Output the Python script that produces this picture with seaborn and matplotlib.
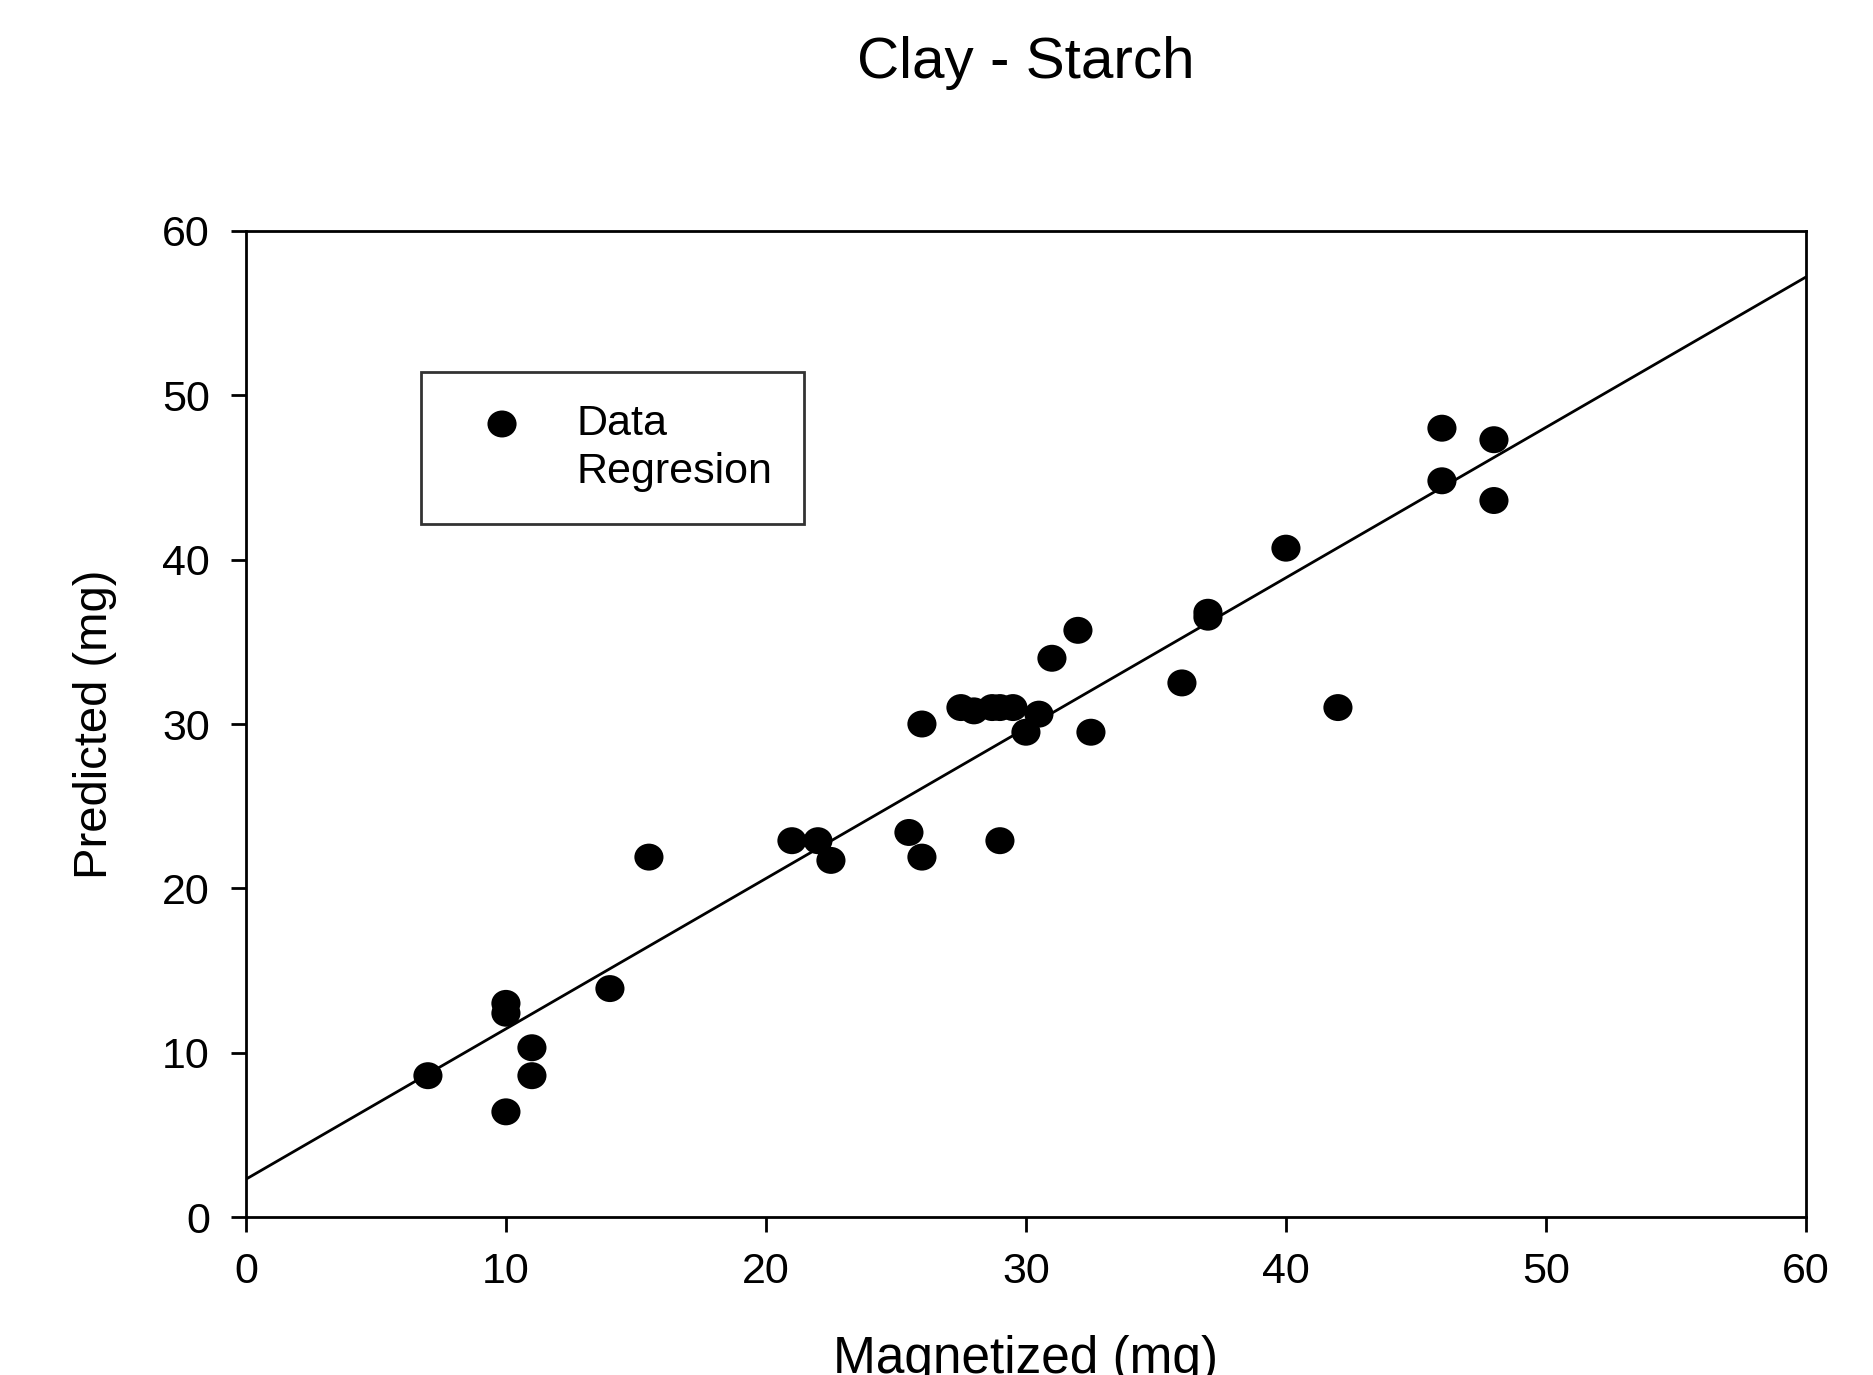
import numpy as np
import pandas as pd
import matplotlib
matplotlib.use('Agg')
import matplotlib.pyplot as plt
from matplotlib.path import Path
from matplotlib.transforms import Affine2D
import seaborn as sns

# Values
magnetized = [7, 10, 10, 10, 11, 11, 14, 15.5, 21, 22, 22.5, 25.5, 26, 26,
              27.5, 28, 28.7, 29, 29.5, 29, 30, 30.5, 31, 32, 32.5, 36,
              37, 37, 40, 42, 46, 46, 48, 48]
predicted = [8.6, 13.0, 12.4, 6.4, 10.3, 8.6, 13.9, 21.9, 22.9, 22.9, 21.7, 23.4, 21.9, 30.0,
             31.0, 30.8, 31.0, 31.0, 31.0, 22.9, 29.5, 30.6, 34.0, 35.7, 29.5, 32.5,
             36.8, 36.5, 40.7, 31.0, 48.0, 44.8, 47.3, 43.6]

# regression coefficients
intercept = 2.3
slope = 0.915
x_range = [0, 60]

ticks = [0, 10, 20, 30, 40, 50, 60]

df = pd.DataFrame({'Magnetized': magnetized, 'Predicted': predicted})
line_x = np.array(x_range, dtype=float)
reg = pd.DataFrame({'x': line_x, 'y': intercept + slope * line_x})

sns.set_style('white')
plt.rcParams['font.family'] = ['Liberation Sans', 'DejaVu Sans']
for key in ['text.color', 'axes.labelcolor', 'xtick.color', 'ytick.color', 'axes.edgecolor']:
    plt.rcParams[key] = 'black'

# slightly wide dot, as in the original
dot = Path.unit_circle().transformed(Affine2D().scale(1.08, 1.0))

fig = plt.figure(figsize=(18.73, 13.75), dpi=100)
ax = fig.add_axes([0.1313, 0.1149, 0.8329, 0.7171])

sns.scatterplot(data=df, x='Magnetized', y='Predicted', ax=ax, color='black',
                marker=dot, s=440, edgecolor='none', label='Data', zorder=3)
sns.lineplot(data=reg, x='x', y='y', ax=ax, color='black', linewidth=2.0,
             label='Regresion', zorder=2)

ax.set_xlim(0, 60)
ax.set_ylim(0, 60)
ax.set_xticks(ticks)
ax.set_yticks(ticks)

for side in ['top', 'right', 'bottom', 'left']:
    ax.spines[side].set_visible(True)
    ax.spines[side].set_linewidth(2)

ax.tick_params(axis='both', which='major', direction='out', length=11, width=2,
               labelsize=31, bottom=True, left=True, top=False, right=False)
ax.tick_params(axis='x', pad=14)
ax.tick_params(axis='y', pad=15)

ax.set_xlabel('Magnetized (mg)', fontsize=37, labelpad=31)
ax.set_ylabel('Predicted (mg)', fontsize=34, labelpad=32)
ax.set_title('Clay - Starch', fontsize=42, pad=110)

leg = ax.legend(loc='upper left', bbox_to_anchor=(0.112, 0.857), borderaxespad=0,
                fontsize=31, frameon=True, fancybox=False, edgecolor='black',
                borderpad=0.75, handlelength=2.28, handletextpad=0.58,
                labelspacing=0.18)
leg.get_frame().set_linewidth(2)
leg.legend_handles[1].set_visible(False)

fig.savefig('out.png', dpi=100)
